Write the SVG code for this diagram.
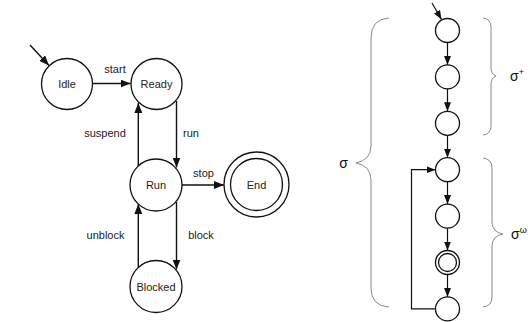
<svg xmlns="http://www.w3.org/2000/svg" width="528" height="322" viewBox="0 0 528 322">
<defs>
<style>
.n{fill:#fff;stroke:#111;stroke-width:1.3}
.t{font-family:"Liberation Sans",Arial,sans-serif;font-size:11px;fill:#222;text-anchor:middle;dominant-baseline:central}
.e{fill:none;stroke:#111;stroke-width:1.4}
.s{fill:none;stroke:#111;stroke-width:1.2}
.b{fill:none;stroke:#8a8a8a;stroke-width:1}
.g{font-family:"Liberation Sans",Arial,sans-serif;font-size:14px;fill:#111}
</style>
<marker id="a" markerUnits="userSpaceOnUse" markerWidth="10" markerHeight="8" refX="10" refY="4" orient="auto"><path d="M0,0 L10,4 L0,8 Z" fill="#111"/></marker>
<marker id="a2" markerUnits="userSpaceOnUse" markerWidth="9" markerHeight="7" refX="9" refY="3.5" orient="auto"><path d="M0,0 L9,3.5 L0,7 Z" fill="#111"/></marker>
</defs>
<rect width="528" height="322" fill="#fff"/>
<g id="connectors">
<path class="e" d="M30,45 L49,65.5" marker-end="url(#a)"/>
<path class="e" d="M93,83.5 H130.5" marker-end="url(#a)"/>
<path class="e" d="M176.5,101 V167.5" marker-end="url(#a)"/>
<path class="e" d="M138.3,166 V103" marker-end="url(#a)"/>
<path class="e" d="M182,185 H224" marker-end="url(#a)"/>
<path class="e" d="M176.5,202 V269.5" marker-end="url(#a)"/>
<path class="e" d="M138.3,267.5 V204" marker-end="url(#a)"/>
<text class="t" x="115" y="69">start</text>
<text class="t" x="105" y="133">suspend</text>
<text class="t" x="191" y="133">run</text>
<text class="t" x="203.5" y="172.5">stop</text>
<text class="t" x="105.5" y="235">unblock</text>
<text class="t" x="201" y="235">block</text>
<path class="s" d="M432,3 L441.5,19.5" marker-end="url(#a2)"/>
<path class="s" d="M447.5,42.5 V64.9" marker-end="url(#a2)"/>
<path class="s" d="M447.5,88.9 V111.3" marker-end="url(#a2)"/>
<path class="s" d="M447.5,135.3 V157.7" marker-end="url(#a2)"/>
<path class="s" d="M447.5,181.7 V204.1" marker-end="url(#a2)"/>
<path class="s" d="M447.5,228.1 V250.5" marker-end="url(#a2)"/>
<path class="s" d="M447.5,274.5 V296.9" marker-end="url(#a2)"/>
<path class="s" d="M435.5,308.9 H411.5 V169.7 H435.5" marker-end="url(#a2)"/>
</g>
<g id="idle"><circle class="n" cx="67" cy="84" r="25.5"/><text class="t" x="67" y="84">Idle</text></g>
<g id="ready"><circle class="n" cx="156.5" cy="84" r="25.5"/><text class="t" x="156.5" y="84">Ready</text></g>
<g id="run"><circle class="n" cx="156" cy="185" r="26"/><text class="t" x="156" y="185">Run</text></g>
<g id="end"><circle class="n" cx="256.5" cy="184.5" r="32.5"/><circle class="n" cx="256.5" cy="184.5" r="26"/><text class="t" x="256.5" y="184.5">End</text></g>
<g id="blocked"><circle class="n" cx="156" cy="286.5" r="26"/><text class="t" x="156" y="286.5">Blocked</text></g>
<g id="s1"><circle class="n" cx="447.5" cy="30.5" r="12"/></g>
<g id="s2"><circle class="n" cx="447.5" cy="76.9" r="12"/></g>
<g id="s3"><circle class="n" cx="447.5" cy="123.3" r="12"/></g>
<g id="s4"><circle class="n" cx="447.5" cy="169.7" r="12"/></g>
<g id="s5"><circle class="n" cx="447.5" cy="216.1" r="12"/></g>
<g id="s6"><circle class="n" cx="447.5" cy="262.5" r="12"/><circle class="n" cx="447.5" cy="262.5" r="9"/></g>
<g id="s7"><circle class="n" cx="447.5" cy="308.9" r="12"/></g>
<g id="braces">
<path class="b" d="M389,18 Q371,19 371,38 V146 Q371,160 356,163 Q371,166 371,180 V288 Q371,306 389,307"/>
<path class="b" d="M483,18 Q491,19 491,27 V68 Q491,74 496,76 Q491,78 491,84 V126 Q491,134 483,135"/>
<path class="b" d="M483,158 Q492,159 492,168 V222 Q492,232 503,234 Q492,236 492,246 V297 Q492,306 483,307"/>
<text class="g" x="343.5" y="168" text-anchor="middle">σ</text>
<text class="g" x="510" y="81">σ<tspan font-size="9" dy="-6">+</tspan></text>
<text class="g" x="511" y="239">σ<tspan font-size="9" dy="-6">ω</tspan></text>
</g>
</svg>
